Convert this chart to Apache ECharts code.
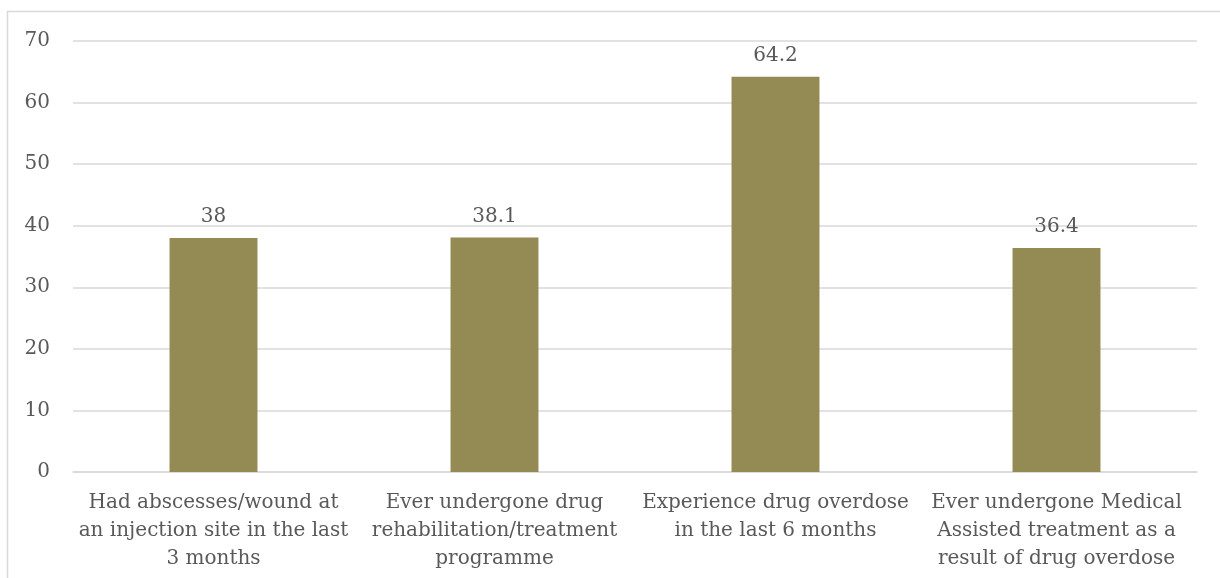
<!DOCTYPE html>
<html>
<head>
<meta charset="utf-8">
<script src="https://cdn.jsdelivr.net/npm/echarts@6/dist/echarts.min.js"></script>
<style>
  html, body { margin: 0; padding: 0; background: #ffffff; }
  #chart { width: 1220px; height: 578px; }
</style>
</head>
<body>
<div id="chart"></div>
<script>
// Survey indicators (percent of respondents)
const categories = [
  'Had abscesses/wound at\nan injection site in the last\n3 months',
  'Ever undergone drug\nrehabilitation/treatment\nprogramme',
  'Experience drug overdose\nin the last 6 months',
  'Ever undergone Medical\nAssisted treatment as a\nresult of drug overdose'
];
const values = [38, 38.1, 64.2, 36.4];
const yTicks = { min: 0, max: 70, interval: 10 };

const FONT = '"DejaVu Serif", "Liberation Serif", serif';
const TEXT = '#595959';

const chart = echarts.init(document.getElementById('chart'), null, { renderer: 'canvas' });
chart.setOption({
  animation: false,
  backgroundColor: '#ffffff',
  graphic: [
    {
      type: 'rect',
      shape: { x: 7.5, y: 11.5, width: 1400, height: 800 },
      style: { fill: 'none', stroke: '#D9D9D9', lineWidth: 1.5 },
      silent: true
    }
  ],
  grid: { left: 73, right: 23, top: 41, bottom: 106, containLabel: false },
  xAxis: {
    type: 'category',
    data: categories,
    axisLine: { show: true, lineStyle: { color: '#D9D9D9', width: 1.5 } },
    axisTick: { show: false },
    axisLabel: {
      interval: 0,
      margin: 17,
      color: TEXT,
      fontFamily: FONT,
      fontSize: 20,
      lineHeight: 28,
      align: 'center'
    }
  },
  yAxis: {
    type: 'value',
    min: yTicks.min,
    max: yTicks.max,
    interval: yTicks.interval,
    axisLine: { show: false },
    axisTick: { show: false },
    splitLine: { lineStyle: { color: '#D9D9D9', width: 1.5 } },
    axisLabel: { margin: 23, color: TEXT, fontFamily: FONT, fontSize: 20 }
  },
  series: [
    {
      type: 'bar',
      data: values,
      barWidth: '31.3%',
      itemStyle: { color: '#948A54' },
      label: {
        show: true,
        position: 'top',
        distance: 11,
        color: TEXT,
        fontFamily: FONT,
        fontSize: 20
      }
    }
  ]
});
</script>
</body>
</html>
